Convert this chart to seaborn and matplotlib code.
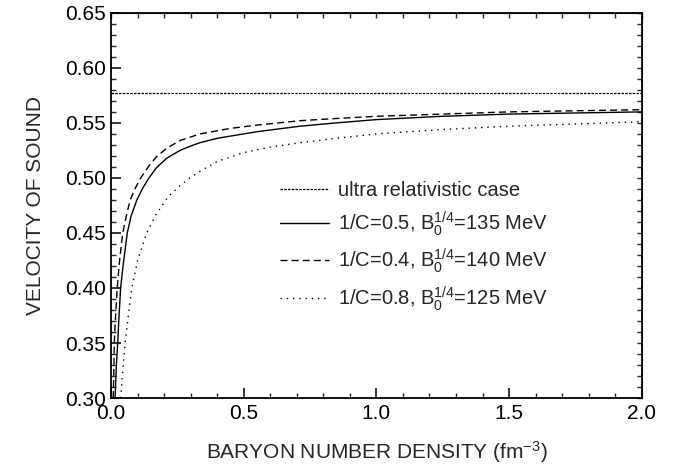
import numpy as np
import pandas as pd
import seaborn as sns
import matplotlib.pyplot as plt
from matplotlib.ticker import MultipleLocator, FormatStrFormatter

# data
ultra_rel = 0.577

x_solid = [0.015, 0.020, 0.025, 0.030, 0.036, 0.045, 0.061, 0.075, 0.097, 0.12, 0.14, 0.17,
           0.21, 0.26, 0.30, 0.335, 0.40, 0.45, 0.55, 0.712, 0.85, 1.0, 1.25, 1.5, 1.75, 2.0]
y_solid = [0.300, 0.330, 0.350, 0.375, 0.400, 0.420, 0.450, 0.465, 0.480, 0.491, 0.499, 0.509,
           0.518, 0.525, 0.529, 0.532, 0.536, 0.538, 0.542, 0.547, 0.550, 0.553, 0.556, 0.558,
           0.559, 0.560]

x_dash = [0.008, 0.010, 0.012, 0.017, 0.023, 0.032, 0.044, 0.057, 0.072, 0.09, 0.109, 0.14,
          0.17, 0.21, 0.26, 0.335, 0.45, 0.55, 0.712, 0.85, 1.0, 1.25, 1.5, 1.75, 2.0]
y_dash = [0.300, 0.320, 0.350, 0.375, 0.400, 0.425, 0.450, 0.465, 0.480, 0.490, 0.499, 0.510,
          0.519, 0.527, 0.534, 0.540, 0.545, 0.548, 0.552, 0.554, 0.556, 0.558, 0.560, 0.561, 0.562]

x_dot = [0.036, 0.044, 0.053, 0.065, 0.078, 0.10, 0.134, 0.17, 0.215, 0.26, 0.297, 0.335,
         0.40, 0.5, 0.6, 0.712, 0.85, 1.0, 1.25, 1.5, 1.75, 2.0]
y_dot = [0.300, 0.325, 0.350, 0.375, 0.400, 0.425, 0.450, 0.467, 0.483, 0.493, 0.500, 0.506,
         0.515, 0.523, 0.528, 0.532, 0.536, 0.540, 0.544, 0.547, 0.549, 0.551]

labels = ["ultra relativistic case",
          r"1/C=0.5, B$_0^{1/4}$=135 MeV",
          r"1/C=0.4, B$_0^{1/4}$=140 MeV",
          r"1/C=0.8, B$_0^{1/4}$=125 MeV"]

sns.set_style("ticks")
plt.rcParams['font.family'] = ['Liberation Sans', 'DejaVu Sans']
plt.rcParams['mathtext.fontset'] = 'custom'
plt.rcParams['mathtext.rm'] = 'Liberation Sans'
plt.rcParams['mathtext.it'] = 'Liberation Sans:italic'
plt.rcParams['mathtext.bf'] = 'Liberation Sans:bold'

fig = plt.figure(figsize=(6.9, 4.75), dpi=100)
ax = fig.add_axes([0.161, 0.162, 0.769, 0.811])

ax.axhline(ultra_rel, color='black', lw=0.9, linestyle=(0, (2, 1)), label=labels[0])
sns.lineplot(x=x_solid, y=y_solid, ax=ax, color='black', lw=1.0, estimator=None,
             label=labels[1])
sns.lineplot(x=x_dash, y=y_dash, ax=ax, color='black', lw=1.0, estimator=None,
             linestyle=(0, (5, 3)), label=labels[2])
sns.lineplot(x=x_dot, y=y_dot, ax=ax, color='black', lw=1.0, estimator=None,
             linestyle=(0, (1, 3.5)), label=labels[3])

ax.set_xlim(0, 2.0)
ax.set_ylim(0.30, 0.65)
ax.xaxis.set_major_locator(MultipleLocator(0.5))
ax.xaxis.set_minor_locator(MultipleLocator(0.1))
ax.yaxis.set_major_locator(MultipleLocator(0.05))
ax.yaxis.set_minor_locator(MultipleLocator(0.01))
ax.xaxis.set_major_formatter(FormatStrFormatter('%.1f'))
ax.yaxis.set_major_formatter(FormatStrFormatter('%.2f'))
ax.tick_params(which='major', direction='in', length=7, width=1.1, labelsize=15,
               colors='black', pad=4)
ax.tick_params(which='minor', direction='in', length=3.5, width=1.0)

for s in ax.spines.values():
    s.set_linewidth(1.3)
    s.set_color('black')

# small ticks on top and right edges
top = ax.secondary_xaxis('top')
top.xaxis.set_major_locator(MultipleLocator(0.1))
top.tick_params(direction='in', length=3.5, width=1.0, labeltop=False)
right = ax.secondary_yaxis('right')
right.yaxis.set_major_locator(MultipleLocator(0.01))
right.tick_params(direction='in', length=3.5, width=1.0, labelright=False)

ax.set_xlabel(r"BARYON NUMBER DENSITY (fm$^{-3}$)", fontsize=15, labelpad=12)
ax.set_ylabel("VELOCITY OF SOUND", fontsize=15, labelpad=14)

ax.legend(loc='upper left', bbox_to_anchor=(0.30, 0.59), frameon=False, fontsize=14.5,
          handlelength=2.4, handletextpad=0.45, labelspacing=0.45, borderpad=0)

fig.savefig("out.png", dpi=100)
